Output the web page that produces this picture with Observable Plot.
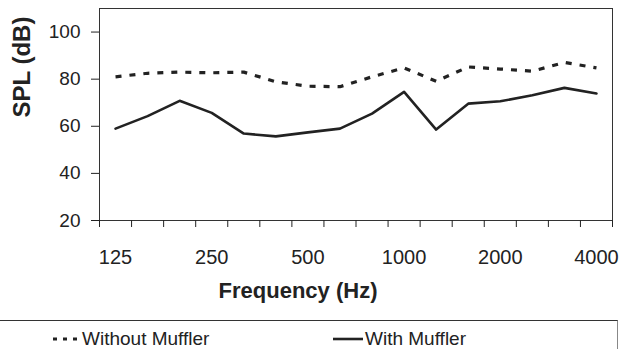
<!DOCTYPE html>
<html><head><meta charset="utf-8">
<script src="https://cdn.jsdelivr.net/npm/d3@7"></script>
<script src="https://cdn.jsdelivr.net/npm/@observablehq/plot@0.6"></script>
<style>
body{margin:0;background:#fff;font-family:"Liberation Sans",Arial,sans-serif;color:#222;width:620px;height:349px;overflow:hidden}
#chart svg{display:block}
#legend{position:relative;width:617px;height:28px;border-top:1px solid #333;border-right:1px solid #888;font-size:19px}
.item{position:absolute;top:8px;line-height:19px;white-space:nowrap}
.item svg{position:absolute;top:0}
</style>
</head><body>
<div id="chart"></div>
<div id="legend"></div>
<script>
const freqs = ["125","160","200","250","315","400","500","630","800","1000","1250","1600","2000","2500","3150","4000"];
const shownLabels = ["125","250","500","1000","2000","4000"];
const withoutMuffler = [81.0, 82.5, 83.0, 82.7, 83.0, 78.9, 77.0, 76.8, 81.0, 84.8, 79.1, 85.2, 84.3, 83.4, 87.1, 84.8];
const withMuffler = [59.0, 64.3, 70.8, 65.7, 56.9, 55.7, 57.4, 59.0, 65.4, 74.6, 58.6, 69.6, 70.6, 73.2, 76.3, 73.9];
const yTicks = [20, 40, 60, 80, 100];
const seriesNames = ["Without Muffler", "With Muffler"];

const rowsOf = vals => vals.map((v, i) => ({pos: i + 0.5, freq: freqs[i], spl: v}));

const chart = Plot.plot({
  width: 620,
  height: 320,
  marginLeft: 99,
  marginRight: 8,
  marginTop: 8,
  marginBottom: 100,
  style: {fontFamily: '"Liberation Sans", Arial, sans-serif', color: "#222", background: "#fff"},
  x: {type: "linear", domain: [0, freqs.length], axis: null},
  y: {domain: [20, 110], axis: null},
  marks: [
    Plot.frame({stroke: "#333"}),
    Plot.axisX({ticks: d3.range(freqs.length + 1), tickFormat: () => "", tickSize: 7, label: null}),
    Plot.axisX({ticks: shownLabels.map(l => freqs.indexOf(l) + 0.5), tickFormat: t => freqs[Math.round(t - 0.5)], tickSize: 0, tickPadding: 29, fontSize: 20, label: null}),
    Plot.axisY({ticks: yTicks, tickSize: 8, tickPadding: 11, fontSize: 19, label: null}),
    Plot.text(["SPL (dB)"], {frameAnchor: "left", dx: -77, dy: 3, rotate: -90, fontSize: 24, fontWeight: "bold", fill: "#222"}),
    Plot.text(["Frequency (Hz)"], {frameAnchor: "bottom", dx: -58, dy: 77, fontSize: 22, fontWeight: "bold", fill: "#222"}),
    Plot.line(rowsOf(withoutMuffler), {x: "pos", y: "spl", stroke: "#222", strokeWidth: 3.2, strokeDasharray: "6,8", strokeLinecap: "butt"}),
    Plot.line(rowsOf(withMuffler), {x: "pos", y: "spl", stroke: "#222", strokeWidth: 2.6})
  ]
});
document.getElementById("chart").appendChild(chart);

const legend = document.getElementById("legend");
legend.innerHTML = `
  <div class="item" style="left:53px"><svg width="28" height="19" style="left:0"><line x1="0" y1="10" x2="28" y2="10" stroke="#222" stroke-width="3" stroke-dasharray="4,6"/></svg><span style="margin-left:29px">${seriesNames[0]}</span></div>
  <div class="item" style="left:333px"><svg width="30" height="19" style="left:0"><line x1="0" y1="10" x2="30" y2="10" stroke="#222" stroke-width="2.6"/></svg><span style="margin-left:32px">${seriesNames[1]}</span></div>`;
</script>
</body></html>
